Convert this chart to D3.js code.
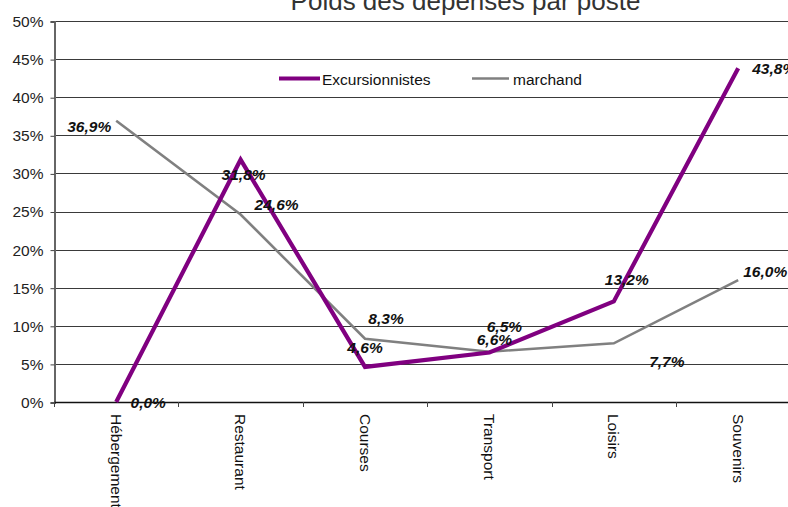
<!DOCTYPE html>
<html>
<head>
<meta charset="utf-8">
<script src="https://cdn.jsdelivr.net/npm/d3@7"></script>
<style>
  html, body { margin: 0; padding: 0; background: #fff; overflow: hidden; }
  svg { display: block; font-family: "Liberation Sans", Arial, sans-serif; }
</style>
</head>
<body>
<svg id="chart" width="788" height="507"></svg>
<script>
const title = "Poids des dépenses par poste";
const categories = ["Hébergement", "Restaurant", "Courses", "Transport", "Loisirs", "Souvenirs"];
const seriesNames = ["Excursionnistes", "marchand"];
const excursionnistes = [0.0, 31.8, 4.6, 6.5, 13.2, 43.8];
const marchand = [36.9, 24.6, 8.3, 6.6, 7.7, 16.0];
const yTicks = [0, 5, 10, 15, 20, 25, 30, 35, 40, 45, 50];

// label placement offsets (layout only)
const labelOffsetsExc = [[32, 0], [3, 15], [0, -19], [15, -26], [13, -22], [36, 0]];
const labelOffsetsMar = [[-27, 6], [36, -10], [21, -20], [5, -12], [53, 18], [27, -9]];

const colors = ["#800080", "#808080"];
const widths = [4.2, 2.6];

const svg = d3.select("#chart");
const plotLeft = 54, plotRight = 800.4, plotTop = 21, plotBottom = 402;

const x = d3.scaleBand().domain(categories).range([plotLeft, plotRight]).padding(0);
const y = d3.scaleLinear().domain([0, 50]).range([plotBottom, plotTop]);
const cx = c => x(c) + x.bandwidth() / 2;

// gridlines
svg.append("g").selectAll("line").data(yTicks.filter(t => t > 0)).join("line")
  .attr("x1", plotLeft).attr("x2", 788)
  .attr("y1", d => Math.round(y(d)) + 0.5).attr("y2", d => Math.round(y(d)) + 0.5)
  .attr("stroke", "#3a3a3a").attr("stroke-width", 1);

// y axis
const yAxis = d3.axisLeft(y).tickValues(yTicks).tickSize(4).tickPadding(7).tickFormat(d => d + "%");
const gy = svg.append("g").attr("transform", `translate(${plotLeft + 0.5},0.5)`).call(yAxis);
gy.select(".domain").attr("stroke", "#666").attr("stroke-width", 2);
gy.selectAll(".tick line").attr("stroke", "#444");
gy.selectAll(".tick text").attr("font-size", "15.5px").attr("fill", "#222")
  .attr("font-family", "Liberation Sans, Arial, sans-serif");

// x axis
const boundaries = categories.map(c => x(c));
svg.append("line").attr("x1", plotLeft).attr("x2", 788).attr("y1", plotBottom + 0.5).attr("y2", plotBottom + 0.5)
  .attr("stroke", "#111").attr("stroke-width", 1.5);
svg.append("g").selectAll("line").data(boundaries).join("line")
  .attr("x1", d => Math.round(d) + 0.5).attr("x2", d => Math.round(d) + 0.5)
  .attr("y1", plotBottom).attr("y2", plotBottom + 5).attr("stroke", "#444");

// category labels rotated
svg.append("g").selectAll("text").data(categories).join("text")
  .attr("transform", d => `translate(${cx(d)},${plotBottom + 12}) rotate(90)`)
  .attr("dominant-baseline", "central")
  .attr("text-anchor", "start")
  .attr("font-size", "15.5px").attr("fill", "#111")
  .text(d => d);

// lines
const seriesData = [excursionnistes, marchand];
const line = d3.line().x((d, i) => cx(categories[i])).y(d => y(d));
[1, 0].forEach(s => {
  svg.append("path").datum(seriesData[s])
    .attr("d", line)
    .attr("fill", "none")
    .attr("stroke", colors[s])
    .attr("stroke-width", widths[s])
    .attr("stroke-linejoin", "miter");
});

// data labels
const fmt = v => v.toFixed(1).replace(".", ",") + "%";
const offsets = [labelOffsetsExc, labelOffsetsMar];
[1, 0].forEach(s => {
  svg.append("g").selectAll("text").data(seriesData[s]).join("text")
    .attr("x", (d, i) => cx(categories[i]) + offsets[s][i][0])
    .attr("y", (d, i) => y(d) + offsets[s][i][1])
    .attr("text-anchor", "middle")
    .attr("dominant-baseline", "central")
    .attr("font-size", "15.5px").attr("font-weight", "bold").attr("font-style", "italic")
    .attr("fill", "#111")
    .text(d => fmt(d));
});

// legend
const legendItems = [{x: 279, tx: 322}, {x: 472, tx: 513}];
legendItems.forEach((it, i) => {
  svg.append("line").attr("x1", it.x).attr("x2", it.x + (i === 0 ? 41 : 37))
    .attr("y1", 78.5).attr("y2", 78.5)
    .attr("stroke", colors[i]).attr("stroke-width", i === 0 ? 4 : 2.6);
  svg.append("text").attr("x", it.tx).attr("y", 79)
    .attr("dominant-baseline", "central")
    .attr("font-size", "15.5px").attr("fill", "#111")
    .text(seriesNames[i]);
});

// title
svg.append("text").attr("x", 465.5).attr("y", 10)
  .attr("text-anchor", "middle")
  .attr("font-size", "26px").attr("fill", "#333")
  .text(title);
</script>
</body>
</html>
